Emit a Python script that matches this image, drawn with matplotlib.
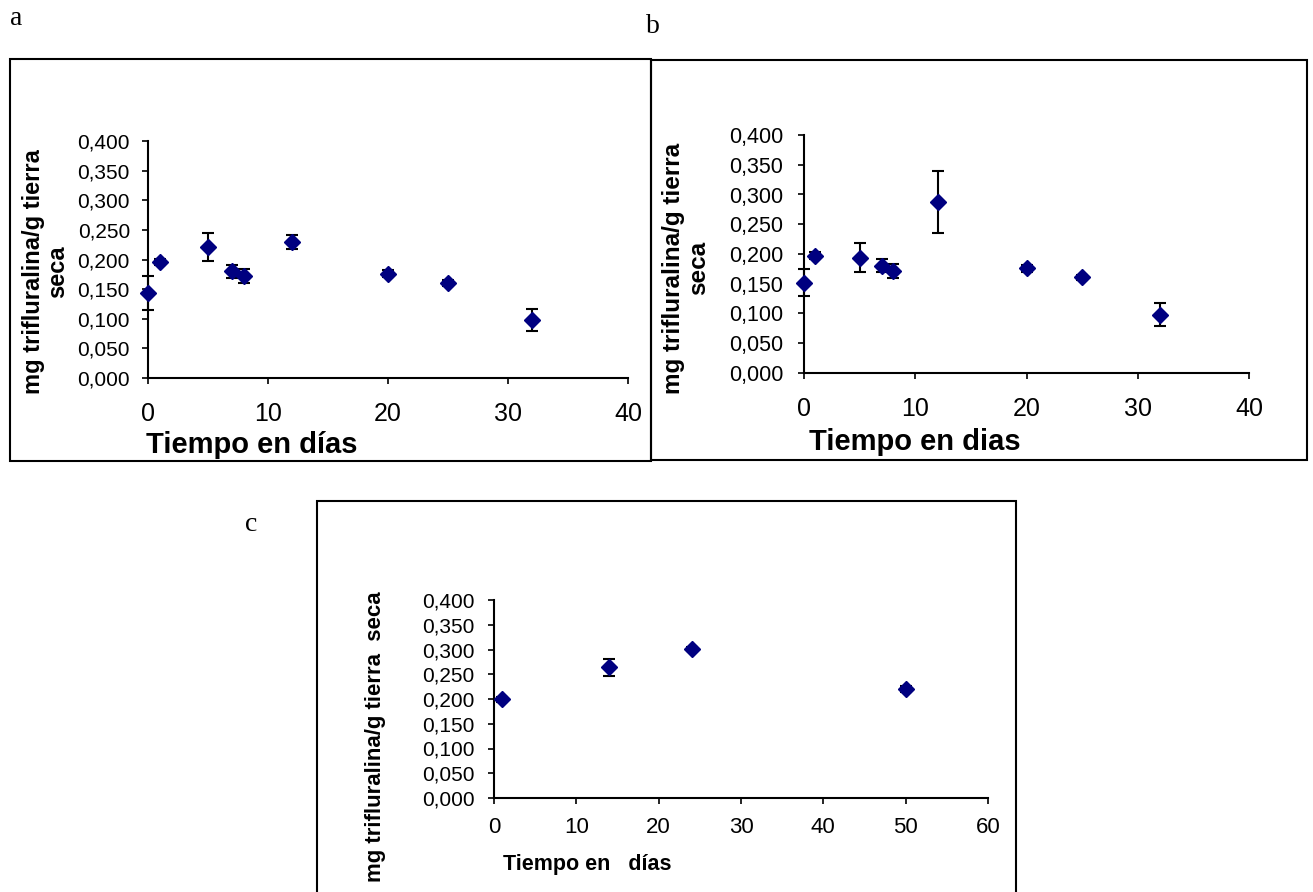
import matplotlib
matplotlib.use("Agg")
import matplotlib.pyplot as plt
from matplotlib.patches import Rectangle
from matplotlib.ticker import FuncFormatter

# ---- data ----
days_a = [0, 1, 5, 7, 8, 12, 20, 25, 32]
vals_a = [0.143, 0.196, 0.221, 0.180, 0.172, 0.229, 0.176, 0.161, 0.098]
err_a = [0.029, 0.005, 0.024, 0.011, 0.012, 0.012, 0.006, 0.005, 0.018]

days_b = [0, 1, 5, 7, 8, 12, 20, 25, 32]
vals_b = [0.152, 0.197, 0.194, 0.180, 0.172, 0.288, 0.176, 0.161, 0.098]
err_b = [0.022, 0.006, 0.024, 0.011, 0.012, 0.052, 0.006, 0.004, 0.019]

days_c = [1, 14, 24, 50]
vals_c = [0.199, 0.264, 0.301, 0.221]
err_c = [0.005, 0.017, 0.004, 0.006]

yticks = [0.0, 0.05, 0.1, 0.15, 0.2, 0.25, 0.3, 0.35, 0.4]
xticks_ab = [0, 10, 20, 30, 40]
xticks_c = [0, 10, 20, 30, 40, 50, 60]

W, H = 1313, 892
fig = plt.figure(figsize=(W / 100, H / 100), dpi=100)
plt.rcParams['font.family'] = ['Liberation Sans', 'DejaVu Sans']

def fx(px):
    return px / W

def fy(py):
    return 1 - py / H

def box(x0, y0, x1, y1, lw=1.5):
    fig.patches.append(Rectangle((fx(x0), fy(y1)), fx(x1) - fx(x0), fy(y0) - fy(y1),
                                 transform=fig.transFigure, fill=False,
                                 edgecolor='black', linewidth=lw))

def make_ax(x0, x1, ybot, ytop):
    return fig.add_axes([fx(x0), fy(ybot), fx(x1) - fx(x0), fy(ytop) - fy(ybot)])

comma = FuncFormatter(lambda v, p: f"{v:.3f}".replace('.', ','))

def style(ax, xs, xmax, ytick_fs, xtick_fs, xpad, ypad):
    for s in ['top', 'right']:
        ax.spines[s].set_visible(False)
    for s in ['left', 'bottom']:
        ax.spines[s].set_linewidth(1.5)
    ax.set_xlim(0, xmax)
    ax.set_ylim(0, 0.4)
    ax.set_yticks(yticks)
    ax.set_xticks(xs)
    ax.yaxis.set_major_formatter(comma)
    ax.tick_params(axis='y', direction='out', length=4, width=1.2, labelsize=ytick_fs, pad=ypad)
    ax.tick_params(axis='x', direction='out', length=4, width=1.2, labelsize=xtick_fs, pad=xpad)
    ax.patch.set_visible(False)

def draw(ax, x, y, e):
    ax.errorbar(x, y, yerr=e, fmt='D', color='#000080', markersize=8,
                ecolor='black', elinewidth=1.5, capsize=4, capthick=1.5, clip_on=False, zorder=3)

# boxes
box(10, 59, 651, 461)
box(651, 60, 1307, 460)
box(317, 501, 1016, 900)

# panel a
axa = make_ax(148, 628, 378, 141)
draw(axa, days_a, vals_a, err_a)
style(axa, xticks_ab, 40, 15, 18, 13, 9)

# panel b
axb = make_ax(804, 1249, 373, 135)
draw(axb, days_b, vals_b, err_b)
style(axb, xticks_ab, 40, 15.5, 18, 13, 11)

# panel c
axc = make_ax(494, 988, 798, 600)
draw(axc, days_c, vals_c, err_c)
style(axc, xticks_c, 60, 15, 16, 10, 10)

# axis labels
lab = dict(fontweight='bold', rotation=90, rotation_mode='anchor', ha='center', va='baseline')
fig.text(fx(40), fy(272), "mg trifluralina/g tierra", fontsize=17, **lab)
fig.text(fx(64), fy(272), "seca", fontsize=17, **lab)
fig.text(fx(680), fy(268), "mg trifluralina/g tierra", fontsize=17.5, **lab)
fig.text(fx(705), fy(268), "seca", fontsize=17.5, **lab)
fig.text(fx(381), fy(737), "mg trifluralina/g tierra  seca", fontsize=16, **lab)

fig.text(fx(252), fy(453), "Tiempo en días", fontsize=21, fontweight='bold', ha='center', va='baseline')
fig.text(fx(915), fy(450), "Tiempo en dias", fontsize=21, fontweight='bold', ha='center', va='baseline')
fig.text(fx(587), fy(870), "Tiempo en   días", fontsize=15.5, fontweight='bold', ha='center', va='baseline')

# panel letters
ser = dict(family=['Liberation Serif', 'DejaVu Serif'], fontsize=20, va='baseline', ha='left')
fig.text(fx(10), fy(25), "a", **ser)
fig.text(fx(646), fy(33), "b", **ser)
fig.text(fx(245), fy(531), "c", **ser)

fig.savefig("out.png", dpi=100)
